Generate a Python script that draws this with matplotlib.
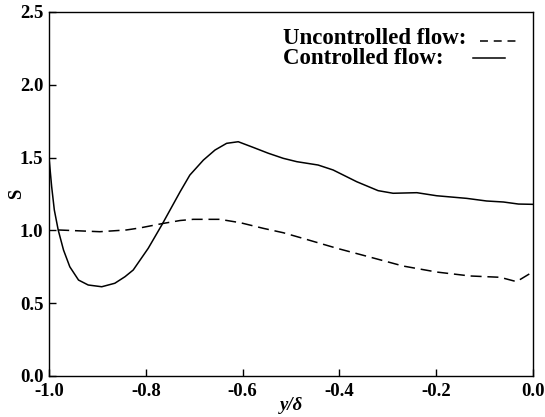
import matplotlib
matplotlib.use("Agg")
import matplotlib.pyplot as plt
from matplotlib.lines import Line2D

# Controlled flow (solid)
x_ctrl = [-1.0, -0.9945, -0.989, -0.981, -0.970, -0.957, -0.939, -0.919, -0.891,
          -0.864, -0.843, -0.826, -0.795, -0.767, -0.729, -0.709, -0.681, -0.657,
          -0.633, -0.609, -0.578, -0.547, -0.516, -0.488, -0.444, -0.413, -0.364,
          -0.320, -0.289, -0.240, -0.199, -0.137, -0.096, -0.061, -0.030, 0.0]
s_ctrl = [1.50, 1.30, 1.14, 1.003, 0.865, 0.75, 0.659, 0.625, 0.613,
          0.637, 0.682, 0.728, 0.877, 1.037, 1.266, 1.38, 1.483, 1.552,
          1.598, 1.609, 1.57, 1.53, 1.495, 1.472, 1.449, 1.415, 1.334,
          1.273, 1.255, 1.259, 1.238, 1.22, 1.202, 1.195, 1.181, 1.179]

# Uncontrolled flow (dashed)
x_unc = [-0.981, -0.895, -0.840, -0.812, -0.764, -0.729, -0.702, -0.647, -0.605,
         -0.557, -0.516, -0.475, -0.405, -0.335, -0.268, -0.199, -0.130, -0.068,
         -0.034, 0.0]
s_unc = [1.003, 0.991, 1.003, 1.017, 1.048, 1.068, 1.076, 1.076, 1.053,
         1.014, 0.984, 0.945, 0.877, 0.815, 0.755, 0.714, 0.687, 0.678,
         0.648, 0.716]

xticks = [-1.0, -0.8, -0.6, -0.4, -0.2, 0.0]
yticks = [0.0, 0.5, 1.0, 1.5, 2.0, 2.5]
xtick_labels = ["-1.0", "-0.8", "-0.6", "-0.4", "-0.2", "0.0"]
ytick_labels = ["0.0", "0.5", "1.0", "1.5", "2.0", "2.5"]
legend_labels = ["Uncontrolled flow:", "Controlled flow:"]

plt.rcParams['font.family'] = ['Liberation Serif', 'DejaVu Serif']
plt.rcParams['font.weight'] = 'bold'

W, H = 545, 417
fig = plt.figure(figsize=(W / 100, H / 100), dpi=100)
ax = fig.add_axes([49 / W, 1 - 376 / H, (533 - 49) / W, (376 - 12) / H])

ax.plot(x_ctrl, s_ctrl, color='black', lw=1.1)
ax.plot(x_unc, s_unc, color='black', lw=1.1, dashes=(7.2, 3.8))

ax.set_xlim(-1.0, 0.0)
ax.set_ylim(0.0, 2.5)
ax.set_xticks(xticks)
ax.set_xticklabels(xtick_labels)
ax.set_yticks(yticks)
ax.set_yticklabels(ytick_labels)
ax.tick_params(direction='in', length=5, width=1, labelsize=13.5,
               top=False, right=False)
ax.tick_params(axis='x', pad=5)
ax.tick_params(axis='y', pad=4)
for lab in ax.get_yticklabels() + ax.get_xticklabels():
    lab.set_fontweight('bold')
for sp in ax.spines.values():
    sp.set_linewidth(1.0)

ax.set_xlabel("y/δ", fontsize=13.5, fontstyle='italic', fontweight='bold',
              va='center')
ax.xaxis.set_label_coords(0.5, -0.08)
ax.set_ylabel("S", fontsize=13.5, fontweight='bold', va='center')
ax.yaxis.set_label_coords(-0.068, 0.5)

# legend drawn as text followed by line samples
tr = fig.transFigure
fig.text(283 / W, 1 - 38 / H, legend_labels[0], fontsize=16.5, fontweight='bold',
         va='center', ha='left')
fig.text(283 / W, 1 - 59 / H, legend_labels[1], fontsize=16.5, fontweight='bold',
         va='center', ha='left')
fig.add_artist(Line2D([480 / W, 517 / W], [1 - 41 / H, 1 - 41 / H], transform=tr,
                      color='black', lw=1.1, dashes=(5.2, 3.8)))
fig.add_artist(Line2D([473 / W, 505 / W], [1 - 58 / H, 1 - 58 / H], transform=tr,
                      color='black', lw=1.1))

fig.savefig("out.png", dpi=100)
